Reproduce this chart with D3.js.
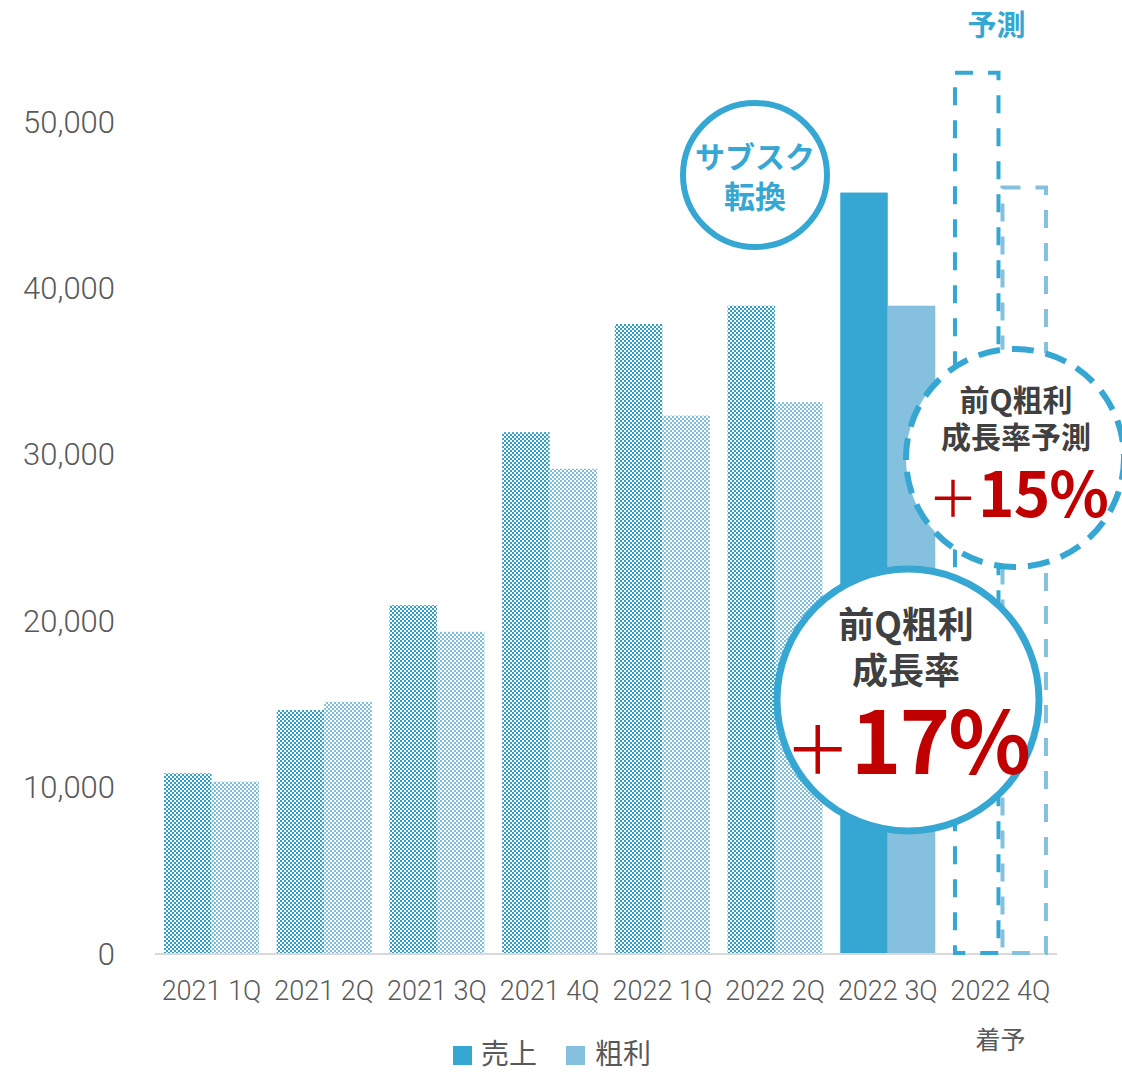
<!DOCTYPE html>
<html><head><meta charset="utf-8">
<script src="https://cdn.jsdelivr.net/npm/d3@7"></script>
<style>
html,body{margin:0;padding:0;background:#fff;}
svg{display:block;}
</style></head>
<body>
<svg id="chart" width="1122" height="1072"></svg>
<script>
const categories = ["2021 1Q","2021 2Q","2021 3Q","2021 4Q","2022 1Q","2022 2Q","2022 3Q","2022 4Q"];
const subLabels = ["","","","","","","","着予"];
const sales = [10800, 14600, 20900, 31300, 37800, 38900, 45700, 52900];
const profit = [10300, 15100, 19300, 29100, 32300, 33100, 38900, 46000];
const barKind = ["hist","hist","hist","hist","hist","hist","actual","forecast"];
const yTicks = [0, 10000, 20000, 30000, 40000, 50000];
const seriesKeys = ["sales","profit"];
const seriesNames = ["売上","粗利"];

const C_SALES = "#36A7D2", C_PROFIT = "#85C1DE";
const svg = d3.select("#chart");
const JP = "'Noto Sans CJK JP','Noto Sans',sans-serif";
const NUM = "Roboto,'Noto Sans',sans-serif";

const defs = svg.append("defs");
function checker(id, color){
  const p = defs.append("pattern").attr("id", id).attr("patternUnits","userSpaceOnUse")
    .attr("width",4).attr("height",4);
  p.append("rect").attr("width",4).attr("height",4).attr("fill","#fff");
  p.append("rect").attr("width",2).attr("height",2).attr("fill",color);
  p.append("rect").attr("x",2).attr("y",2).attr("width",2).attr("height",2).attr("fill",color);
}
checker("patSales", "#2E9FCC");
checker("patProfit", "#7DBEE0");

const x0 = d3.scaleBand().domain(categories).range([155,1057]).paddingInner(0.157).paddingOuter(0.08);
const x1 = d3.scaleBand().domain(seriesKeys).range([0, x0.bandwidth()]);
const y = d3.scaleLinear().domain([0,50000]).range([953,121]);

// baseline
svg.append("line").attr("x1",155).attr("x2",1057).attr("y1",y(0)+1).attr("y2",y(0)+1)
  .attr("stroke","#D9D9D9").attr("stroke-width",2);

// y labels
const yAxis = d3.axisLeft(y).tickValues(yTicks).tickSize(0).tickPadding(0).tickFormat(d3.format(","));
const ya = svg.append("g").attr("transform","translate(115,0)").call(yAxis);
ya.select(".domain").remove();
ya.selectAll("text").attr("font-family",NUM).attr("font-size",31).attr("font-weight",300)
  .attr("fill","#595959").attr("dy","0.36em");

// bars
const rows = categories.map((c,i)=>({cat:c, kind:barKind[i], vals:[{k:"sales",v:sales[i]},{k:"profit",v:profit[i]}]}));
const g = svg.append("g");
rows.forEach(r=>{
  r.vals.forEach(d=>{
    const bx = x0(r.cat)+x1(d.k), bw = x1.bandwidth(), by = y(d.v), bh = y(0)-y(d.v);
    const rect = g.append("rect");
    if(r.kind==="hist"){
      rect.attr("x",bx).attr("y",by).attr("width",bw).attr("height",bh)
        .attr("fill", d.k==="sales" ? "url(#patSales)" : "url(#patProfit)");
    } else if(r.kind==="actual"){
      rect.attr("x",bx).attr("y",by).attr("width",bw).attr("height",bh)
        .attr("fill", d.k==="sales" ? C_SALES : C_PROFIT);
    } else {
      rect.attr("x",bx+2).attr("y",by).attr("width",bw-4).attr("height",bh)
        .attr("fill","none").attr("stroke", d.k==="sales" ? C_SALES : C_PROFIT)
        .attr("stroke-width",4).attr("stroke-dasharray","18,15");
    }
  });
});

// x labels
const xg = svg.append("g");
categories.forEach((c,i)=>{
  const cx = x0(c)+x0.bandwidth()/2;
  xg.append("text").attr("x",cx).attr("y",1000).attr("text-anchor","middle")
    .attr("font-family",NUM).attr("font-size",27).attr("font-weight",300).attr("fill","#595959").text(c);
  if(subLabels[i]) xg.append("text").attr("x",cx).attr("y",1049).attr("text-anchor","middle")
    .attr("font-family",JP).attr("font-size",25).attr("fill","#595959").text(subLabels[i]);
});

// forecast title
svg.append("text").attr("x", x0(categories[7])+x0.bandwidth()/2-4).attr("y",36).attr("text-anchor","middle")
  .attr("font-family",JP).attr("font-weight","bold").attr("font-size",29).attr("fill",C_SALES).text("予測");

// legend
const lg = svg.append("g");
[[453,481,C_SALES],[566,595,C_PROFIT]].forEach((p,i)=>{
  lg.append("rect").attr("x",p[0]).attr("y",1046).attr("width",19).attr("height",19).attr("fill",p[2]);
  lg.append("text").attr("x",p[1]).attr("y",1064).attr("font-family",JP).attr("font-size",28)
    .attr("fill","#595959").text(seriesNames[i]);
});

// circle: サブスク転換
svg.append("circle").attr("cx",755).attr("cy",175).attr("r",72).attr("fill","#fff")
  .attr("stroke",C_SALES).attr("stroke-width",6);
[["サブスク",168,30],["転換",208,31]].forEach(t=>{
  svg.append("text").attr("x",755).attr("y",t[1]).attr("text-anchor","middle").attr("font-family",JP)
    .attr("font-weight","bold").attr("font-size",t[2]).attr("fill",C_SALES).text(t[0]);
});

// dashed circle
svg.append("circle").attr("cx",1015).attr("cy",458).attr("r",109).attr("fill","#fff")
  .attr("stroke",C_SALES).attr("stroke-width",6).attr("stroke-dasharray","22,12");
[["前Q粗利",411,30],["成長率予測",448,30]].forEach(t=>{
  svg.append("text").attr("x",1016).attr("y",t[1]).attr("text-anchor","middle").attr("font-family",JP)
    .attr("font-weight","bold").attr("font-size",t[2]).attr("fill","#404040").text(t[0]);
});
const t15 = svg.append("text").attr("x",1018).attr("y",517).attr("text-anchor","middle")
  .attr("font-family",JP).attr("fill","#C00000");
t15.append("tspan").attr("font-size",50).attr("font-weight","normal").text("＋");
t15.append("tspan").attr("font-size",62).attr("font-weight","bold").attr("letter-spacing",-1).text("15%");

// big circle
svg.append("circle").attr("cx",908).attr("cy",700).attr("r",131).attr("fill","#fff")
  .attr("stroke",C_SALES).attr("stroke-width",7);
[["前Q粗利",638,36],["成長率",684,36]].forEach(t=>{
  svg.append("text").attr("x",906).attr("y",t[1]).attr("text-anchor","middle").attr("font-family",JP)
    .attr("font-weight","bold").attr("font-size",t[2]).attr("fill","#404040").text(t[0]);
});
const t17 = svg.append("text").attr("x",907).attr("y",774).attr("text-anchor","middle")
  .attr("font-family",JP).attr("fill","#C00000");
t17.append("tspan").attr("font-size",66).attr("font-weight","normal").text("＋");
t17.append("tspan").attr("font-size",86).attr("font-weight","bold").attr("letter-spacing",-2).text("17%");
</script>
</body></html>
